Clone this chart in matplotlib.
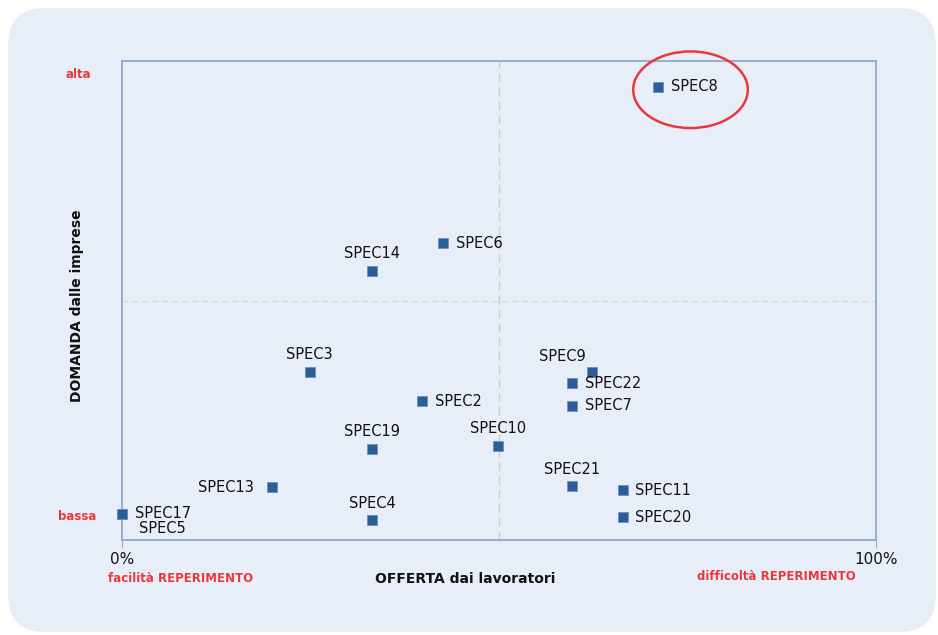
import matplotlib.pyplot as plt
from matplotlib.patches import FancyBboxPatch, Ellipse

# offerta (x, %) e domanda (y, scala 0-100) per specializzazione
names = ['SPEC8', 'SPEC6', 'SPEC14', 'SPEC3', 'SPEC9', 'SPEC22', 'SPEC7', 'SPEC2',
         'SPEC19', 'SPEC10', 'SPEC21', 'SPEC11', 'SPEC13', 'SPEC17', 'SPEC5',
         'SPEC4', 'SPEC20']
offerta = [71.1, 42.6, 33.2, 24.9, 62.4, 59.7, 59.7, 39.8,
           33.2, 49.9, 59.7, 66.4, 19.9, 0.0, 0.0, 33.2, 66.4]
domanda = [94.6, 62.0, 56.2, 35.1, 35.1, 32.7, 28.0, 29.0,
           19.0, 19.6, 11.2, 10.4, 11.0, 5.5, 5.5, 4.1, 4.8]
# posizione etichetta: r = destra, t = sopra, l = sinistra, b = sotto
label_pos = ['r', 'r', 't', 't', 'tl', 'r', 'r', 'r',
             't', 't', 't', 'r', 'l', 'r', 'b', 't', 'r']

red = '#E8383D'
blue = '#2C5D96'
bg = '#E8EEF8'
spine = '#90A9CF'

fig = plt.figure(figsize=(9.38, 6.35), dpi=100)
fig.patch.set_facecolor('white')
box = FancyBboxPatch((8 / 938, 3 / 635), 928 / 938, 624 / 635,
                     boxstyle='round,pad=0,rounding_size=0.04',
                     transform=fig.transFigure, facecolor=bg, edgecolor='none',
                     mutation_aspect=938 / 635, zorder=-10)
fig.patches.append(box)

ax = fig.add_axes([122 / 938, 95 / 635, 754 / 938, 479 / 635])
ax.set_facecolor(bg)
ax.set_xlim(0, 100)
ax.set_ylim(0, 100)
for s in ax.spines.values():
    s.set_color(spine)
    s.set_linewidth(1.3)

ax.axvline(50, color='#CCCCCC', lw=1, ls=(0, (6, 4)), zorder=1)
ax.axhline(50, color='#D4D4D4', lw=0.8, ls=(0, (5, 4)), zorder=1)

ax.plot(offerta, domanda, 's', color=blue, markersize=7, mec='#6E8FBF',
        mew=0.6, zorder=3, clip_on=False)

fs = 10.5
for n, x, y, p in zip(names, offerta, domanda, label_pos):
    if p == 'r':
        ax.annotate(n, (x, y), xytext=(9, 0), textcoords='offset points',
                    ha='left', va='center', fontsize=fs, color='#111111')
    elif p == 't':
        ax.annotate(n, (x, y), xytext=(0, 7), textcoords='offset points',
                    ha='center', va='bottom', fontsize=fs, color='#111111')
    elif p == 'tl':
        ax.annotate(n, (x, y), xytext=(-22, 6), textcoords='offset points',
                    ha='center', va='bottom', fontsize=fs, color='#111111')
    elif p == 'l':
        ax.annotate(n, (x, y), xytext=(-13, 0), textcoords='offset points',
                    ha='right', va='center', fontsize=fs, color='#111111')
    else:
        ax.annotate(n, (x, y), xytext=(12, -11), textcoords='offset points',
                    ha='left', va='center', fontsize=fs, color='#111111')

# cerchio rosso attorno a SPEC8
ax.add_patch(Ellipse((75.4, 94.0), 15.2, 16.0, fill=False, edgecolor=red,
                     lw=1.8, zorder=4, clip_on=False))

ax.set_xticks([0, 100])
ax.set_xticklabels(['0%', '100%'], fontsize=11, color='#111111')
ax.tick_params(axis='x', length=6, color=spine, pad=3)
ax.set_yticks([])

fig.text(78 / 938, 1 - 74 / 635, 'alta', color=red, fontsize=8.5,
         fontweight='bold', ha='center', va='center')
fig.text(77 / 938, 1 - 517 / 635, 'bassa', color=red, fontsize=8.5,
         fontweight='bold', ha='center', va='center')

fig.text(181 / 938, 1 - 579 / 635, 'facilità REPERIMENTO', color=red,
         fontsize=8.5, fontweight='bold', ha='center', va='center')
fig.text(776 / 938, 1 - 577 / 635, 'difficoltà REPERIMENTO', color=red,
         fontsize=8.5, fontweight='bold', ha='center', va='center')
fig.text(465 / 938, 1 - 579 / 635, 'OFFERTA dai lavoratori', color='#111111',
         fontsize=10, fontweight='bold', ha='center', va='center')
fig.text(77 / 938, 1 - 306 / 635, 'DOMANDA dalle imprese', color='#111111',
         fontsize=10, fontweight='bold', ha='center', va='center', rotation=90)

fig.savefig('out.png', dpi=100)
